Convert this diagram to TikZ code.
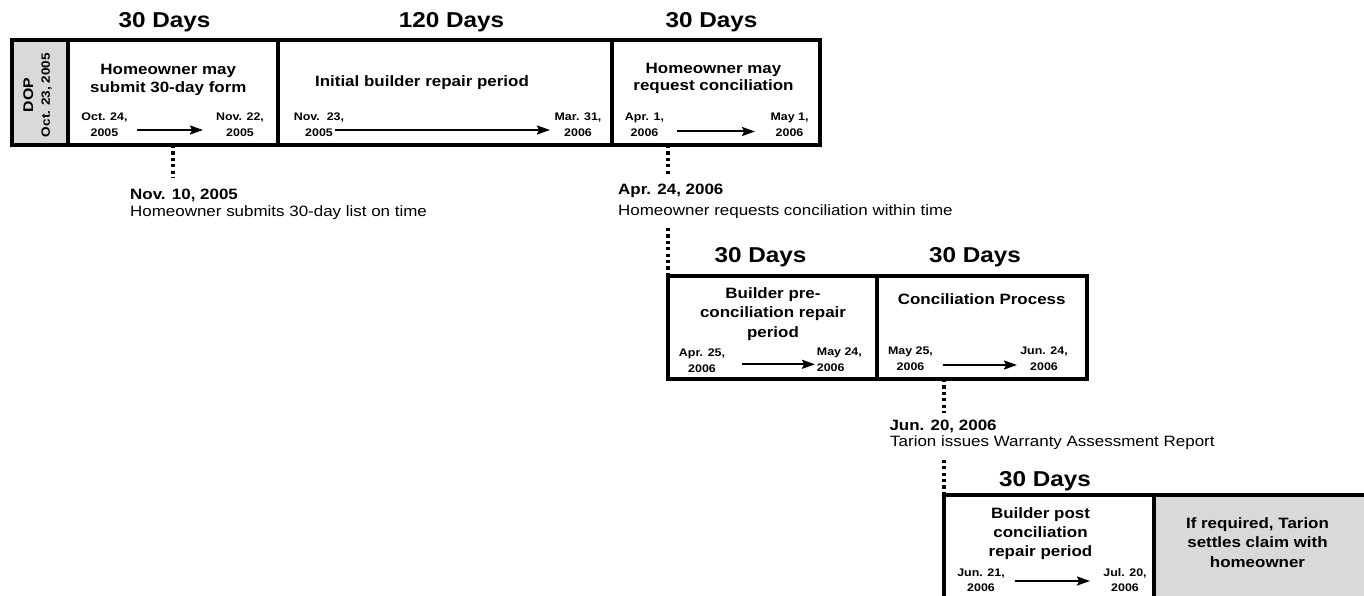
\documentclass[tikz,border=0pt]{standalone}
\usepackage{fontspec}
\setmainfont{Liberation Sans}[FakeStretch=1.13]
\usetikzlibrary{arrows.meta}
\definecolor{boxgray}{RGB}{217,217,217}
\newcommand{\ctab}[1]{\begin{tabular}[t]{@{}c@{}}#1\end{tabular}}
\newcommand{\ltab}[1]{\begin{tabular}[t]{@{}l@{}}#1\end{tabular}}
\begin{document}
\begin{tikzpicture}[x=1pt,y=-1pt,
  frame/.style={draw=black, line width=4pt, inner sep=0pt, outer sep=0pt, rectangle},
  heading/.style={font=\fontsize{21.5}{26}\selectfont\bfseries, anchor=base, inner sep=0pt},
  title/.style={font=\fontsize{15}{17.5}\selectfont\bfseries, anchor=base, inner sep=0pt},
  title3/.style={font=\fontsize{15}{19.5}\selectfont\bfseries, anchor=base, inner sep=0pt},
  datetext/.style={font=\fontsize{11}{16}\selectfont\bfseries, anchor=base, inner sep=0pt},
  notebold/.style={font=\fontsize{15}{18}\selectfont\bfseries, anchor=base west, inner sep=0pt},
  notetext/.style={font=\fontsize{15}{18}\selectfont, anchor=base west, inner sep=0pt},
  span/.style={line width=2pt, -{Stealth[length=13pt,width=9pt,inset=2pt]}},
  dots/.style={line width=3.5pt, dash pattern=on 3.2pt off 3.2pt},
]
\useasboundingbox (0,0) rectangle (1364,596);
\clip (0,0) rectangle (1364,596);

% ---------- boxes ----------
\node[frame, fill=boxgray, minimum width=56.3pt, minimum height=104.5pt] (dop) at (39.85,92.75) {};
\node[frame, minimum width=209.5pt, minimum height=104.5pt] (b1) at (172.75,92.75) {};
\node[frame, minimum width=334pt, minimum height=104.5pt] (b2) at (444.5,92.75) {};
\node[frame, minimum width=208.5pt, minimum height=104.5pt] (b3) at (715.75,92.75) {};
\node[frame, minimum width=208.5pt, minimum height=103pt] (b4) at (772.25,327.5) {};
\node[frame, minimum width=210.5pt, minimum height=103pt] (b5) at (981.75,327.5) {};
\node[frame, minimum width=210pt, minimum height=205pt] (b6) at (1049,597.5) {};
\node[frame, fill=boxgray, minimum width=246pt, minimum height=205pt] (b7) at (1277,597.5) {};

% ---------- headings ----------
\node[heading] (h1) at (164.5,27.7) {30 Days};
\node[heading] (h2) at (451.5,27.7) {120 Days};
\node[heading] (h3) at (711.5,27.7) {30 Days};
\node[heading] (h4) at (760.5,262.8) {30 Days};
\node[heading] (h5) at (975,262.8) {30 Days};
\node[heading] (h6) at (1045,486) {30 Days};

% ---------- DOP ----------
\node[rotate=90, anchor=base, inner sep=0pt, font=\bfseries\fontsize{12}{17}\selectfont] (dopt) at (33,95)
  {\ctab{{\fontsize{14}{17}\selectfont DOP}\\Oct. 23, 2005}};

% ---------- titles ----------
\node[title] (t1) at (168.3,75) {\ctab{Homeowner may\\submit 30-day form}};
\node[title] (t2) at (422,87) {Initial builder repair period};
\node[title] (t3) at (713.5,73.5) {\ctab{Homeowner may\\request conciliation}};
\node[title3] (t4) at (773,298.3) {\ctab{Builder pre-\\conciliation repair\\period}};
\node[title] (t5) at (981.7,304) {Conciliation Process};
\node[title3, font=\fontsize{15}{19}\selectfont\bfseries] (t6) at (1040.5,518.3) {\ctab{Builder post\\conciliation\\repair period}};
\node[title3] (t7) at (1257.5,528.3) {\ctab{If required, Tarion\\settles claim with\\homeowner}};

% ---------- dates ----------
\node[datetext] (d1a) at (104.5,120.7) {\ctab{Oct. 24,\\2005}};
\node[datetext] (d1b) at (240,120.7) {\ctab{Nov. 22,\\2005}};
\node[datetext] (d2a) at (319,120.7) {\ctab{Nov.\ \ 23,\\2005}};
\node[datetext] (d2b) at (578,121) {\ctab{Mar. 31,\\2006}};
\node[datetext] (d3a) at (644.5,121) {\ctab{Apr. 1,\\2006}};
\node[datetext] (d3b) at (789.5,121) {\ctab{May 1,\\2006}};
\node[datetext] (d4a) at (702,356.2) {\ctab{Apr. 25,\\2006}};
\node[datetext, anchor=base west] (d4b) at (816.7,355) {\ltab{May 24,\\2006}};
\node[datetext] (d5a) at (910.5,354.5) {\ctab{May 25,\\2006}};
\node[datetext] (d5b) at (1044,354.5) {\ctab{Jun. 24,\\2006}};
\node[datetext, font=\fontsize{11}{15}\selectfont\bfseries] (d6a) at (981,576.7) {\ctab{Jun. 21,\\2006}};
\node[datetext, font=\fontsize{11}{15}\selectfont\bfseries] (d6b) at (1125,576.7) {\ctab{Jul. 20,\\2006}};

% ---------- period arrows ----------
\coordinate (a1s) at (137,130);   \coordinate (a1e) at (203,130);
\coordinate (a2s) at (335,130);   \coordinate (a2e) at (550,130);
\coordinate (a3s) at (677,131.5); \coordinate (a3e) at (755,131.5);
\coordinate (a4s) at (742,364.3); \coordinate (a4e) at (815,364.3);
\coordinate (a5s) at (943,365);   \coordinate (a5e) at (1017,365);
\coordinate (a6s) at (1015,581);  \coordinate (a6e) at (1090,581);
\draw[span] (a1s) -- (a1e);
\draw[span] (a2s) -- (a2e);
\draw[span] (a3s) -- (a3e);
\draw[span] (a4s) -- (a4e);
\draw[span] (a5s) -- (a5e);
\draw[span] (a6s) -- (a6e);

% ---------- annotations ----------
\node[notebold] (n1) at (130,199) {Nov. 10, 2005};
\node[notetext] (n1t) at (130,216.7) {Homeowner submits 30-day list on time};
\node[notebold] (n2) at (618,194) {Apr. 24, 2006};
\node[notetext] (n2t) at (618,215) {Homeowner requests conciliation within time};
\node[notebold] (n3) at (889.3,430) {Jun. 20, 2006};
\node[notetext] (n3t) at (890,446.7) {Tarion issues Warranty Assessment Report};

% ---------- dotted leaders ----------
\coordinate (q1a) at (b1.south);
\coordinate (q1b) at (172.75,178);
\coordinate (q2a) at (b3.south -| b4.west);
\coordinate (q2b) at (668,175);
\coordinate (q2c) at (668,227);
\coordinate (q3a) at (b5.south -| b6.west);
\coordinate (q3b) at (944,413);
\coordinate (q3c) at (944,457);
\draw[dots] (q1a) -- (q1b);
\draw[dots] (q2a) -- (q2b);
\draw[dots] (b4.north west) -- (q2c);
\draw[dots] (q3a) -- (q3b);
\draw[dots] (b6.north west) -- (q3c);
\end{tikzpicture}
\end{document}
